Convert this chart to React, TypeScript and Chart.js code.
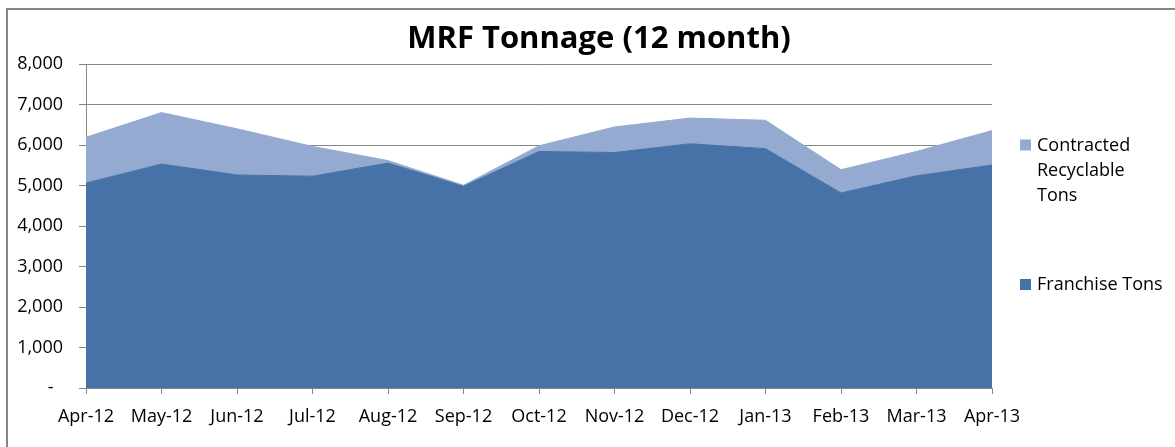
import React, { useEffect, useRef } from "react";
import { Chart, registerables } from "chart.js";

Chart.register(...registerables);

const months = ["Apr-12", "May-12", "Jun-12", "Jul-12", "Aug-12", "Sep-12", "Oct-12", "Nov-12", "Dec-12", "Jan-13", "Feb-13", "Mar-13", "Apr-13"];
const franchiseTons = [5060, 5530, 5260, 5230, 5555, 4980, 5840, 5815, 6030, 5910, 4815, 5240, 5505];
const contractedTons = [1130, 1270, 1140, 735, 60, 25, 140, 630, 635, 700, 575, 600, 850];
const yTicks = [0, 1000, 2000, 3000, 4000, 5000, 6000, 7000, 8000];
const chartTitle = "MRF Tonnage (12 month)";
const seriesNames = ["Franchise Tons", "Contracted Recyclable Tons"];
const legendLines = [["Contracted", "Recyclable", "Tons"], ["Franchise Tons"]];

const DARK = "#4672A7";
const LIGHT = "#95AAD1";
const GRID = "#868686";
const FONT = '"Open Sans", sans-serif';

const decorPlugin = {
  id: "decor",
  beforeDraw(chart: any) {
    const ctx = chart.ctx;
    ctx.save();
    ctx.fillStyle = "#ffffff";
    ctx.fillRect(0, 0, chart.width, chart.height);
    ctx.strokeStyle = GRID;
    ctx.lineWidth = 2;
    ctx.beginPath();
    ctx.moveTo(7, chart.height);
    ctx.lineTo(7, 9);
    ctx.lineTo(chart.width, 9);
    ctx.stroke();
    ctx.restore();
  },
  afterDraw(chart: any) {
    const ctx = chart.ctx;
    ctx.save();
    // title
    ctx.fillStyle = "#000000";
    ctx.font = `bold 31px ${FONT}`;
    ctx.textAlign = "center";
    ctx.textBaseline = "alphabetic";
    ctx.fillText(chartTitle, 599, 48);
    // legend
    ctx.font = `18px ${FONT}`;
    ctx.textAlign = "left";
    const entries = [
      { color: LIGHT, lines: legendLines[0], base: 150.5 },
      { color: DARK, lines: legendLines[1], base: 290 },
    ];
    entries.forEach((e) => {
      ctx.fillStyle = e.color;
      ctx.fillRect(1020, e.base - 11, 11, 11);
      ctx.fillStyle = "#000000";
      e.lines.forEach((t, i) => ctx.fillText(t, 1037, e.base + i * 25));
    });
    ctx.restore();
  },
};

export default function App() {
  const ref = useRef<HTMLCanvasElement | null>(null);
  useEffect(() => {
    if (!ref.current) return;
    Chart.defaults.font.family = FONT;
    const chart = new Chart(ref.current, {
      type: "line",
      data: {
        labels: months,
        datasets: [
          {
            label: seriesNames[0],
            data: franchiseTons,
            backgroundColor: DARK,
            borderColor: DARK,
            borderWidth: 1,
            fill: "origin",
            pointRadius: 0,
            tension: 0,
          },
          {
            label: seriesNames[1],
            data: contractedTons,
            backgroundColor: LIGHT,
            borderColor: LIGHT,
            borderWidth: 1,
            fill: "-1",
            pointRadius: 0,
            tension: 0,
          },
        ],
      },
      options: {
        animation: false,
        responsive: true,
        maintainAspectRatio: false,
        layout: { padding: { top: 64, left: 0, right: 183, bottom: 0 } },
        plugins: {
          legend: { display: false },
          title: { display: false },
          tooltip: { enabled: false },
        },
        scales: {
          x: {
            offset: false,
            grid: {
              display: true,
              drawOnChartArea: false,
              drawTicks: true,
              tickLength: 6,
              color: GRID,
              offset: false,
            },
            border: { display: true, color: GRID },
            ticks: {
              color: "#000000",
              font: { size: 18, family: FONT },
              padding: 12,
              maxRotation: 0,
              autoSkip: false,
            },
            afterFit(scale: any) {
              scale.height = 59;
            },
          },
          y: {
            stacked: true,
            min: 0,
            max: 8000,
            afterBuildTicks(scale: any) {
              scale.ticks = yTicks.map((v) => ({ value: v }));
            },
            grid: {
              color: GRID,
              lineWidth: 1,
              drawTicks: true,
              tickLength: 7,
            },
            border: { display: true, color: GRID },
            ticks: {
              color: "#000000",
              font: { size: 18, family: FONT },
              padding: 16,
              callback: (v: any) => (Number(v) === 0 ? "-  " : Number(v).toLocaleString("en-US")),
            },
            afterFit(scale: any) {
              scale.width = 86;
            },
          },
        },
      },
      plugins: [decorPlugin],
    });
    return () => chart.destroy();
  }, []);
  return (
    <div style={{ position: "absolute", left: 0, top: 0, width: 1175, height: 447 }}>
      <canvas ref={ref} />
    </div>
  );
}
